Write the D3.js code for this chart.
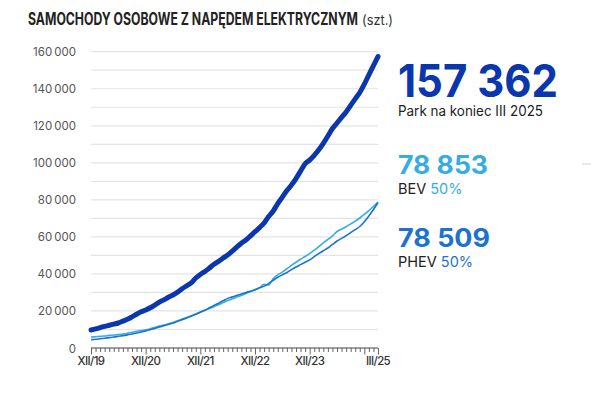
<!DOCTYPE html>
<html>
<head>
<meta charset="utf-8">
<script src="https://cdn.jsdelivr.net/npm/d3@7"></script>
<style>
  html, body { margin: 0; padding: 0; background: #fff; }
  svg { display: block; font-family: Inter, "Noto Sans", sans-serif; }
</style>
</head>
<body>
<svg id="chart" width="591" height="406"></svg>
<script>
// ---- data (monthly, XII/2019 .. III/2025) ----
const monthIndex = d3.range(64);
const totalValues = [
  9700, 10300, 11000, 11700, 12300, 12900, 13500, 14500, 15500, 16800, 18200, 19600,
  20500, 21700, 23200, 24800, 26000, 27400, 28600, 30200, 32000, 33600, 35200, 37800,
  39700, 41300, 43200, 45200, 46800, 48600, 50200, 52300, 54500, 56600, 58300, 60500,
  62800, 65000, 67500, 71000, 74000, 78000, 81500, 85000, 88000, 91500, 95500, 99500,
  101500, 104000, 107000, 110500, 114500, 118500, 121500, 124500, 127500, 131000, 134500, 138000,
  142500, 147500, 152500, 157362
];
const bevValues = [
  5900, 6100, 6300, 6500, 6800, 7000, 7300, 7600, 8000, 8500, 9000, 9400,
  9800, 10400, 11100, 11800, 12400, 13100, 13800, 14700, 15600, 16500, 17400, 18400,
  19500, 20400, 21300, 22300, 23400, 24500, 25600, 26600, 27500, 28400, 29400, 30400,
  31400, 32500, 34400, 34000, 37500, 39500, 41000, 42800, 44600, 46300, 47900, 49400,
  51000, 52800, 54800, 56800, 58600, 60500, 62900, 64100, 65500, 67000, 68500, 70200,
  72100, 74200, 76400, 78853
];
const phevValues = [
  4500, 4700, 5000, 5300, 5600, 5900, 6300, 6700, 7100, 7600, 8100, 8600,
  9200, 9900, 10600, 11300, 12000, 12700, 13500, 14400, 15300, 16200, 17200, 18200,
  19300, 20400, 21700, 23000, 24200, 25500, 26800, 27600, 28300, 29100, 29900, 30700,
  31500, 32500, 33400, 34800, 36600, 38200, 39500, 40800, 42300, 43700, 45000, 46300,
  47600, 49300, 51000, 52500, 54000, 55900, 57800, 59200, 60700, 62300, 63900, 65600,
  68200, 71300, 74800, 78509
];
const xTickIndex = [0, 12, 24, 36, 48, 63];
const xTickLabels = ["XII/19", "XII/20", "XII/21", "XII/22", "XII/23", "III/25"];
const yTickValues = [0, 20000, 40000, 60000, 80000, 100000, 120000, 140000, 160000];
const gridValues = d3.range(10000, 160001, 10000);

const titleText = "SAMOCHODY OSOBOWE Z NAPĘDEM ELEKTRYCZNYM";
const unitText = "(szt.)";
const totalLabel = "157 362";
const totalCaption = "Park na koniec III 2025";
const bevLabel = "78 853";
const bevName = "BEV";
const bevShare = "50%";
const phevLabel = "78 509";
const phevName = "PHEV";
const phevShare = "50%";

// ---- drawing ----
const C_TOTAL = "#0b37ae", C_BEV = "#35ade4", C_PHEV = "#1c72cf";
const svg = d3.select("#chart");

const x = d3.scaleLinear().domain([0, 63]).range([91, 378]);
const y = d3.scaleLinear().domain([0, 160000]).range([348, 51.7]);

// title
const title = svg.append("text").attr("x", 28).attr("y", 25)
  .attr("font-size", 17).attr("font-weight", 700).attr("fill", "#222")
  .attr("textLength", 330).attr("lengthAdjust", "spacingAndGlyphs")
  .text(titleText);
svg.append("text").attr("x", 362).attr("y", 25)
  .attr("font-size", 14).attr("fill", "#333")
  .attr("textLength", 31).attr("lengthAdjust", "spacingAndGlyphs")
  .text(unitText);

// gridlines
svg.append("g").selectAll("line").data(gridValues).join("line")
  .attr("x1", x(0)).attr("x2", x(63))
  .attr("y1", d => y(d)).attr("y2", d => y(d))
  .attr("stroke", "#e4e4e4").attr("stroke-width", 1.2);

// y axis labels
const yAxis = d3.axisLeft(y).tickValues(yTickValues).tickSize(0).tickPadding(0)
  .tickFormat(d => d3.format(",")(d).replace(/,/g, "\u2009"));
const gy = svg.append("g").attr("transform", "translate(76,0)").call(yAxis);
gy.select(".domain").remove();
gy.selectAll("text").attr("font-size", 11.5).attr("fill", "#555")
  .attr("font-family", "Inter, sans-serif").attr("dy", "0.35em");

// x axis
const xAxis = d3.axisBottom(x).tickValues(monthIndex).tickSize(4).tickFormat("");
const gx = svg.append("g").attr("transform", `translate(0,${y(0)})`).call(xAxis);
gx.select(".domain").attr("stroke", "#444").attr("stroke-width", 1.2)
  .attr("d", `M${x(0)},0H${x(63)}`);
gx.selectAll(".tick line").attr("stroke", "#555").attr("stroke-width", 0.9)
  .attr("y2", d => (d % 12 === 0 || d === 63) ? 6.5 : 4);
svg.append("g").selectAll("text").data(xTickIndex).join("text")
  .attr("x", d => x(d)).attr("y", 365)
  .attr("text-anchor", "middle").attr("font-size", 11.5).attr("font-weight", 500)
  .attr("fill", "#333").attr("letter-spacing", -0.6)
  .text((d, i) => xTickLabels[i]);

// lines
const line = vals => d3.line().x(d => x(d)).y(d => y(vals[d])).curve(d3.curveMonotoneX)(monthIndex);
svg.append("path").attr("d", line(bevValues)).attr("fill", "none")
  .attr("stroke", C_BEV).attr("stroke-width", 1.6).attr("stroke-linejoin", "round");
svg.append("path").attr("d", line(phevValues)).attr("fill", "none")
  .attr("stroke", C_PHEV).attr("stroke-width", 1.6).attr("stroke-linejoin", "round");
svg.append("path").attr("d", line(totalValues)).attr("fill", "none")
  .attr("stroke", C_TOTAL).attr("stroke-width", 5).attr("stroke-linejoin", "round")
  .attr("stroke-linecap", "round");

// right side annotations
const rx = 398;
svg.append("text").attr("x", rx).attr("y", 96.5).attr("font-size", 45).attr("font-weight", 700)
  .attr("fill", C_TOTAL).attr("textLength", 160).attr("lengthAdjust", "spacingAndGlyphs")
  .text(totalLabel);
svg.append("text").attr("x", rx).attr("y", 116).attr("font-size", 14).attr("fill", "#222")
  .attr("textLength", 145).attr("lengthAdjust", "spacingAndGlyphs")
  .text(totalCaption);

svg.append("text").attr("x", rx).attr("y", 174).attr("font-size", 25).attr("font-weight", 700)
  .attr("fill", C_BEV).attr("textLength", 90).attr("lengthAdjust", "spacingAndGlyphs")
  .text(bevLabel);
const tb = svg.append("text").attr("x", rx).attr("y", 193.5).attr("font-size", 14.5).attr("fill", "#222");
tb.append("tspan").text(bevName + " ");
tb.append("tspan").attr("fill", C_BEV).text(bevShare);

svg.append("text").attr("x", rx).attr("y", 246.5).attr("font-size", 25).attr("font-weight", 700)
  .attr("fill", C_PHEV).attr("textLength", 92).attr("lengthAdjust", "spacingAndGlyphs")
  .text(phevLabel);
const tp = svg.append("text").attr("x", rx).attr("y", 266.5).attr("font-size", 14.5).attr("fill", "#222");
tp.append("tspan").text(phevName + " ");
tp.append("tspan").attr("fill", C_PHEV).text(phevShare);

// small edge mark at right
svg.append("line").attr("x1", 582).attr("x2", 591).attr("y1", 164).attr("y2", 164)
  .attr("stroke", "#d0d0d0").attr("stroke-width", 1);
</script>
</body>
</html>
